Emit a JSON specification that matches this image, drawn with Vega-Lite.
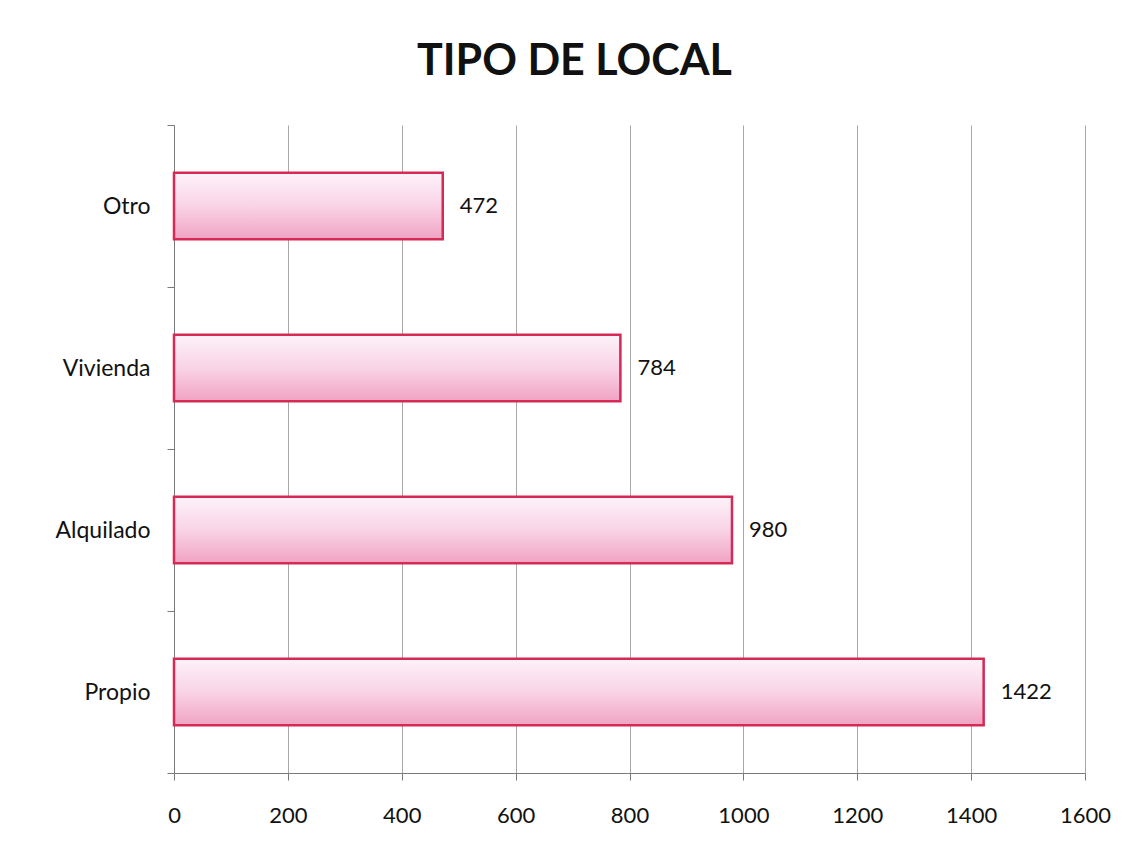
{
  "$schema": "https://vega.github.io/schema/vega-lite/v6.json",
  "autosize": "none",
  "width": 911,
  "height": 648,
  "padding": {"left": 174, "top": 125, "right": 48, "bottom": 84},
  "background": "white",
  "title": {
    "text": "TIPO DE LOCAL",
    "font": "Lato",
    "fontSize": 43,
    "fontWeight": "bold",
    "color": "#111111",
    "anchor": "middle",
    "frame": "group",
    "dx": -55,
    "offset": 30
  },
  "data": {
    "values": [
      {"tipo": "Otro", "valor": 472},
      {"tipo": "Vivienda", "valor": 784},
      {"tipo": "Alquilado", "valor": 980},
      {"tipo": "Propio", "valor": 1422}
    ]
  },
  "encoding": {
    "y": {
      "field": "tipo",
      "type": "nominal",
      "sort": ["Otro", "Vivienda", "Alquilado", "Propio"],
      "scale": {"paddingInner": 0, "paddingOuter": 0},
      "axis": {
        "title": null,
        "tickBand": "extent",
        "grid": false,
        "ticks": true,
        "tickSize": 7,
        "tickColor": "#7a7a7a",
        "domainColor": "#7a7a7a",
        "labelFont": "Lato",
        "labelFontSize": 23,
        "labelColor": "#111111",
        "labelPadding": 17
      }
    },
    "x": {
      "field": "valor",
      "type": "quantitative",
      "scale": {"domain": [0, 1600], "nice": false},
      "axis": {
        "title": null,
        "values": [0, 200, 400, 600, 800, 1000, 1200, 1400, 1600],
        "format": "d",
        "grid": true,
        "gridColor": "#a8a8a8",
        "gridWidth": 1,
        "tickSize": 7,
        "tickColor": "#7a7a7a",
        "domainColor": "#7a7a7a",
        "labelFont": "Lato",
        "labelFontSize": 22,
        "labelColor": "#111111",
        "labelPadding": 25,
        "labelFlush": false
      }
    }
  },
  "layer": [
    {
      "mark": {
        "type": "bar",
        "height": {"band": 0.41},
        "stroke": "#d42a55",
        "strokeWidth": 2.5,
        "color": {
          "gradient": "linear",
          "x1": 0, "y1": 0, "x2": 0, "y2": 1,
          "stops": [
            {"offset": 0, "color": "#fdf2f9"},
            {"offset": 0.5, "color": "#f9d3e6"},
            {"offset": 1, "color": "#f0a3c3"}
          ]
        }
      }
    },
    {
      "mark": {
        "type": "text",
        "align": "left",
        "baseline": "middle",
        "dx": 17,
        "font": "Lato",
        "fontSize": 22,
        "color": "#111111"
      },
      "encoding": {"text": {"field": "valor", "type": "quantitative", "format": "d"}}
    }
  ],
  "config": {"view": {"stroke": null}}
}
